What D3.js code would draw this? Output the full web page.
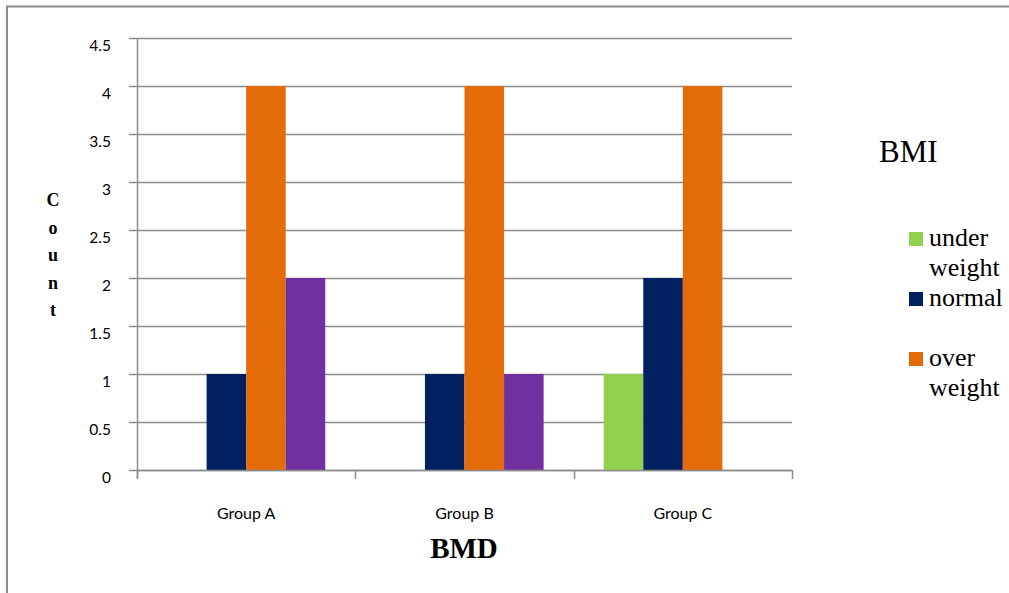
<!DOCTYPE html>
<html><head><meta charset="utf-8">
<script src="https://cdn.jsdelivr.net/npm/d3@7/dist/d3.min.js"></script>
<style>
html,body{margin:0;padding:0;background:#fff;}
svg{display:block;}
.serif{font-family:"Liberation Serif","DejaVu Serif",serif;}
.sans{font-family:Lato,"Open Sans",sans-serif;}
</style>
</head><body>
<svg id="chart" width="1009" height="593"></svg>
<script>
const categories = ["Group A", "Group B", "Group C"];
const seriesNames = ["under weight", "normal", "over weight", "obese"];
const underWeight = [0, 0, 1];
const normal = [1, 1, 2];
const overWeight = [4, 4, 4];
const obese = [2, 1, 0];
const seriesColors = ["#92D050", "#002060", "#E36C09", "#7030A0"];
const yTicks = [0, 0.5, 1, 1.5, 2, 2.5, 3, 3.5, 4, 4.5];
const legendLines = [["under", "weight"], ["normal"], ["over", "weight"]];

(function () {
const seriesValues = [underWeight, normal, overWeight, obese];
const svg = d3.select("#chart");

// outer frame
svg.append("rect").attr("x", 7).attr("y", 6.5).attr("width", 1040).attr("height", 640)
  .attr("fill", "none").attr("stroke", "#8c8c8c").attr("stroke-width", 2);

const pLeft = 137, pRight = 792, pTop = 38, pBottom = 470;
const x = d3.scaleBand().domain(categories).range([pLeft, pRight]).paddingInner(0).paddingOuter(0);
const y = d3.scaleLinear().domain([0, 4.5]).range([pBottom, pTop]);
const xs = d3.scaleBand().domain(seriesNames).range([0, x.bandwidth()]).paddingInner(0).paddingOuter(0.76);

// gridlines
svg.append("g").selectAll("line").data(yTicks).join("line")
  .attr("x1", pLeft - 8).attr("x2", pRight)
  .attr("y1", d => Math.round(y(d)) + 0.5).attr("y2", d => Math.round(y(d)) + 0.5)
  .attr("stroke", "#8c8c8c").attr("stroke-width", 1.5);

// bars
const data = [];
categories.forEach((c, i) => seriesNames.forEach((s, j) => data.push({c, s, v: seriesValues[j][i], color: seriesColors[j]})));
svg.append("g").selectAll("rect").data(data.filter(d => d.v > 0)).join("rect")
  .attr("x", d => x(d.c) + xs(d.s)).attr("width", xs.bandwidth())
  .attr("y", d => y(d.v)).attr("height", d => y(0) - y(d.v))
  .attr("fill", d => d.color);

// y axis
const yAxis = svg.append("g").attr("transform", `translate(${pLeft},0)`)
  .call(d3.axisLeft(y).tickValues(yTicks).tickSize(0).tickPadding(26).tickFormat(d3.format("")));
yAxis.select(".domain").attr("stroke", "#8c8c8c").attr("stroke-width", 1.5).attr("d", `M0.5,${pTop}V${pBottom + 8}`);
yAxis.selectAll("text").attr("class", "sans").attr("font-family", null).attr("font-size", 15.5).attr("fill", "#000")
  .attr("dy", "0.82em");

// x axis
const xAxisG = svg.append("g").attr("transform", `translate(0,${pBottom})`);
xAxisG.append("line").attr("x1", pLeft).attr("x2", pRight).attr("y1", 0.5).attr("y2", 0.5)
  .attr("stroke", "#8c8c8c").attr("stroke-width", 1.5);
const bounds = categories.map(c => x(c)).concat([pRight]);
xAxisG.selectAll("line.tick").data(bounds).join("line").attr("class", "tick")
  .attr("x1", d => Math.round(d) + 0.5).attr("x2", d => Math.round(d) + 0.5).attr("y1", 0).attr("y2", 9)
  .attr("stroke", "#8c8c8c").attr("stroke-width", 1.5);
xAxisG.selectAll("text").data(categories).join("text").attr("class", "sans")
  .attr("x", d => x(d) + x.bandwidth() / 2).attr("y", 49)
  .attr("text-anchor", "middle").attr("font-size", 16)
  .attr("fill", "#000").text(d => d);

// axis titles
svg.append("text").attr("class", "serif").attr("x", 464).attr("y", 558).attr("text-anchor", "middle")
  .attr("font-weight", "bold").attr("font-size", 29)
  .text("BMD");
const countLetters = "Count".split("");
svg.append("g").selectAll("text").data(countLetters).join("text").attr("class", "serif")
  .attr("x", 53).attr("y", (d, i) => 206 + i * 27.5).attr("text-anchor", "middle")
  .attr("font-weight", "bold").attr("font-size", 18)
  .text(d => d);

// legend
svg.append("text").attr("class", "serif").attr("x", 879).attr("y", 162)
  .attr("font-size", 31).text("BMI");
const leg = svg.append("g");
legendLines.forEach((lines, i) => {
  const yy = 232 + i * 60;
  leg.append("rect").attr("x", 909).attr("y", yy).attr("width", 14).attr("height", 14).attr("fill", seriesColors[i]);
  lines.forEach((t, k) => {
    leg.append("text").attr("class", "serif").attr("x", 929).attr("y", yy + 14 + k * 30)
      .attr("font-size", 26).text(t);
  });
});
})();
</script>
</body></html>
